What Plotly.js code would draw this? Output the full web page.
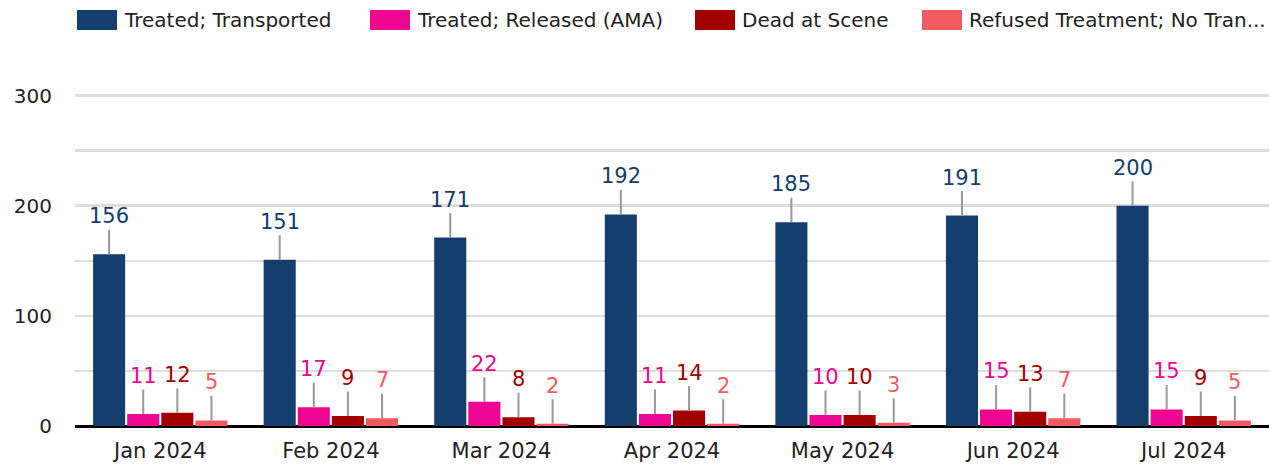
<!DOCTYPE html>
<html><head><meta charset="utf-8">
<script src="https://cdn.plot.ly/plotly-3.0.1.min.js"></script>
<style>html,body{margin:0;padding:0;background:#fff}#chart{width:1269px;height:465px}</style>
</head><body><div id="chart"></div>
<script>
const categories = ['Jan 2024','Feb 2024','Mar 2024','Apr 2024','May 2024','Jun 2024','Jul 2024'];
const seriesNames = ['Treated; Transported','Treated; Released (AMA)','Dead at Scene','Refused Treatment; No Tran...'];
const transported = [156,151,171,192,185,191,200];
const released = [11,17,22,11,10,15,15];
const deadAtScene = [12,9,8,14,10,13,9];
const refused = [5,7,2,2,3,7,5];
const colors = ['#143E6E','#EE0592','#A30000','#F25A61'];
const yTickVals = [0,50,100,150,200,250,300];
const yTickText = ['0','','100','','200','','300'];

const FONT = 'DejaVu Sans, sans-serif';
const W = 1269, H = 465, ML = 75, MR = 0, MT = 90, MB = 39;
const PW = W - ML - MR, PH = H - MT - MB;
const px2x = p => (p - ML) / PW;
const py2y = p => (H - MB - p) / PH;

const allSeries = [transported, released, deadAtScene, refused];
const xIdx = categories.map((c, i) => i);
const bargap = 0.2, groupgap = 0.06;
const nS = allSeries.length;
const slot = (1 - bargap) / nS;

const traces = allSeries.map((vals, s) => ({
  type: 'bar', x: xIdx, y: vals, name: seriesNames[s],
  marker: {color: colors[s]}, showlegend: false, hoverinfo: 'none'
}));

const annotations = [];
allSeries.forEach((vals, s) => {
  const off = -(1 - bargap) / 2 + slot * (s + 0.5);
  vals.forEach((v, i) => {
    annotations.push({
      x: i + off, y: v, xref: 'x', yref: 'y', text: String(v),
      showarrow: true, arrowhead: 0, arrowwidth: 2, arrowcolor: '#999999',
      ax: 0, ay: -38, standoff: 0,
      font: {family: FONT, size: 21, color: colors[s]}
    });
  });
});

// custom legend
const legendX = [77, 370, 695, 922];
const shapes = [];
seriesNames.forEach((n, s) => {
  shapes.push({type: 'rect', xref: 'paper', yref: 'paper',
    x0: px2x(legendX[s]), x1: px2x(legendX[s] + 40), y0: py2y(30), y1: py2y(10),
    fillcolor: colors[s], line: {width: 0}});
  annotations.push({xref: 'paper', yref: 'paper', x: px2x(legendX[s] + 45), y: py2y(20),
    xanchor: 'left', yanchor: 'middle', showarrow: false, text: n,
    font: {family: FONT, size: 20, color: '#222222'}});
});

const layout = {
  width: W, height: H,
  margin: {l: ML, r: MR, t: MT, b: MB, pad: 0},
  paper_bgcolor: '#ffffff', plot_bgcolor: '#ffffff',
  barmode: 'group', bargap: bargap, bargroupgap: groupgap,
  showlegend: false,
  font: {family: FONT, color: '#222222', size: 19},
  xaxis: {range: [-0.5, categories.length - 0.5], tickvals: xIdx, ticktext: categories,
    showgrid: false, zeroline: false, showline: false, ticks: '', ticklabelstandoff: 10,
    tickfont: {family: FONT, size: 21, color: '#222222'}, fixedrange: true},
  yaxis: {range: [0, 305], tickvals: yTickVals, ticktext: yTickText,
    showgrid: true, gridcolor: '#DDDDDD', gridwidth: 2.5,
    zeroline: true, zerolinecolor: '#000000', zerolinewidth: 3, showline: false,
    ticks: '', ticklabelstandoff: 22,
    tickfont: {family: FONT, size: 20, color: '#222222'}, fixedrange: true},
  annotations: annotations, shapes: shapes
};
Plotly.newPlot('chart', traces, layout, {displayModeBar: false, staticPlot: true});
</script></body></html>
